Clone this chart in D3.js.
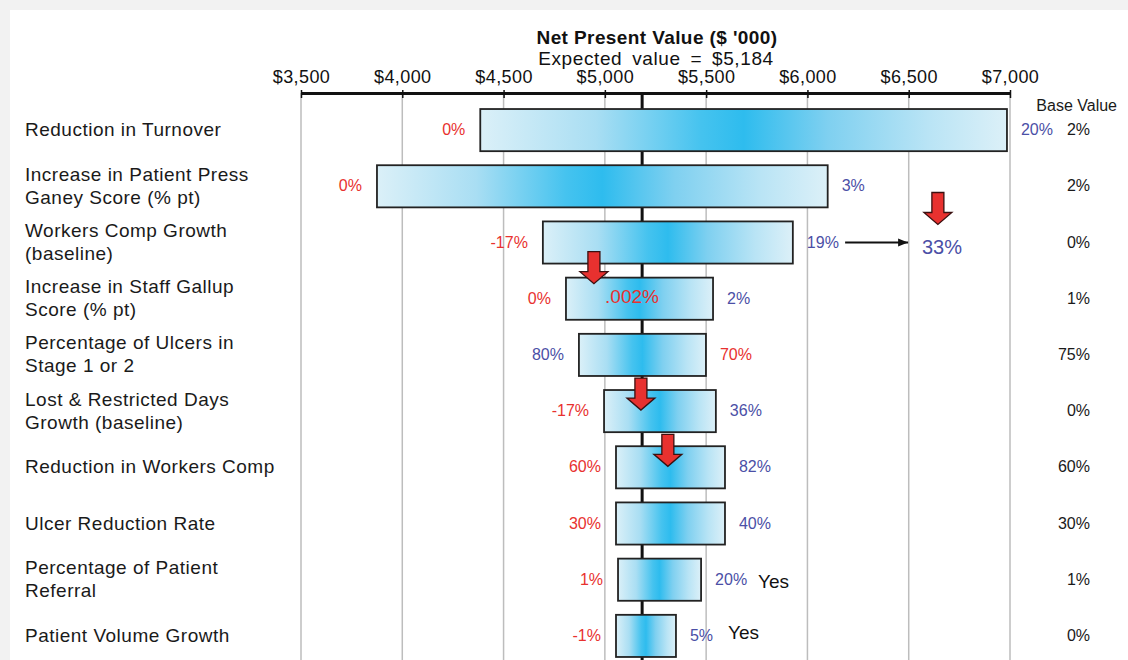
<!DOCTYPE html>
<html>
<head>
<meta charset="utf-8">
<script src="https://cdn.jsdelivr.net/npm/d3@7"></script>
<style>
  body { margin: 0; background: #f2f2f2; }
  svg { display: block; font-family: "Liberation Sans", Arial, sans-serif; }
</style>
</head>
<body>
<script>
// size
var w = 1128;
var h = 660;

// data
const rowLabels = [
  ["Reduction in Turnover"],
  ["Increase in Patient Press", "Ganey Score (% pt)"],
  ["Workers Comp Growth", "(baseline)"],
  ["Increase in Staff Gallup", "Score (% pt)"],
  ["Percentage of Ulcers in", "Stage 1 or 2"],
  ["Lost & Restricted Days", "Growth (baseline)"],
  ["Reduction in Workers Comp"],
  ["Ulcer Reduction Rate"],
  ["Percentage of Patient", "Referral"],
  ["Patient Volume Growth"]
];
const lowValues  = [4385, 3875, 4694, 4808, 4872, 4996, 5055, 5055, 5065, 5055];
const highValues = [6985, 6100, 5928, 5534, 5499, 5548, 5593, 5593, 5475, 5351];
const leftLabels  = ["0%", "0%", "-17%", "0%", "80%", "-17%", "60%", "30%", "1%", "-1%"];
const rightLabels = ["20%", "3%", "19%", "2%", "70%", "36%", "82%", "40%", "20%", "5%"];
// true when the left label is the red (low input) one
const leftIsRed = [true, true, true, true, false, true, true, true, true, true];
const baseValues = ["2%", "2%", "0%", "1%", "75%", "0%", "60%", "30%", "1%", "0%"];

const tickValues = [3500, 4000, 4500, 5000, 5500, 6000, 6500, 7000];
const expectedValue = 5184;

// red arrows: [row index, value position, offset from row centre of the tip]
const redArrows = [[2, 6644, -18], [3, 4946, -15], [5, 5178, -1], [6, 5311, -1]];
// extra notes: [row, value, text, colour, dy]
const notes = [
  [3, 5134, ".002%", "red", -2],
  [2, 6664, "33%", "blue", 5],
  [8, 5756, "Yes", "black", 2],
  [9, 5608, "Yes", "black", -3]
];
const blackArrow = [2, 6186, 6497];

const RED = "#e8312f";
const BLUE = "#4b4fa6";

// scales
const xScale = d3.scaleLinear()
  .domain([3500, 7000])
  .range([301, 1010]);

const yScale = d3.scaleBand()
  .domain(d3.range(rowLabels.length))
  .range([102, 664])
  .paddingInner(0.25)
  .paddingOuter(0.125);

const cy = i => yScale(i) + yScale.bandwidth() / 2;

const svg = d3.select("body")
  .append("svg")
  .attr("width", w)
  .attr("height", h);

// white panel
svg.append("rect")
  .attr("x", 10).attr("y", 10)
  .attr("width", w - 10).attr("height", h - 10)
  .attr("fill", "white");

// gradient for bars
const defs = svg.append("defs");
const grad = defs.append("linearGradient")
  .attr("id", "barGrad")
  .attr("x1", "0%").attr("x2", "100%")
  .attr("y1", "0%").attr("y2", "0%");
[[0, "#dbf0f8"], [0.22, "#a9def3"], [0.42, "#45c3ef"], [0.5, "#2ebcee"],
 [0.66, "#7fd0f0"], [0.85, "#b9e4f5"], [1, "#dcf0f8"]]
  .forEach(s => grad.append("stop").attr("offset", s[0]).attr("stop-color", s[1]));

// titles
svg.append("text")
  .attr("x", 657).attr("y", 44)
  .attr("text-anchor", "middle")
  .attr("font-size", 19).attr("font-weight", "bold")
  .attr("letter-spacing", 0.4)
  .attr("fill", "#111")
  .text("Net Present Value ($ '000)");

svg.append("text")
  .attr("x", 656).attr("y", 65)
  .attr("text-anchor", "middle")
  .attr("font-size", 19)
  .attr("letter-spacing", 0.6)
  .attr("word-spacing", 4)
  .attr("fill", "#111")
  .text("Expected value = $5,184");

const axisY = 93;

// gridlines
svg.selectAll(".grid")
  .data(tickValues)
  .enter()
  .append("line")
    .attr("x1", d => xScale(d)).attr("x2", d => xScale(d))
    .attr("y1", axisY).attr("y2", h)
    .attr("stroke", "#bdbdbd")
    .attr("stroke-width", 1.5);

// top axis
const xAxis = d3.axisTop(xScale)
  .tickValues(tickValues)
  .tickFormat(d => "$" + d3.format(",")(d))
  .tickSizeInner(5)
  .tickSizeOuter(0)
  .tickPadding(5);

const ax = svg.append("g")
  .attr("transform", `translate(0, ${axisY})`)
  .call(xAxis);
ax.select(".domain").attr("stroke", "#111").attr("stroke-width", 3);
ax.selectAll(".tick line").attr("stroke", "#111").attr("stroke-width", 1.5).attr("y2", 5).attr("y1", -3);
ax.selectAll(".tick text")
  .attr("font-size", 18)
  .attr("letter-spacing", 0.4)
  .attr("font-family", "Liberation Sans, Arial, sans-serif")
  .attr("fill", "#111");

// expected value line
svg.append("line")
  .attr("x1", xScale(expectedValue)).attr("x2", xScale(expectedValue))
  .attr("y1", axisY).attr("y2", h)
  .attr("stroke", "#111")
  .attr("stroke-width", 3);

// bars
svg.selectAll(".bar")
  .data(d3.range(rowLabels.length))
  .enter()
  .append("rect")
    .attr("x", i => xScale(lowValues[i]))
    .attr("y", i => yScale(i))
    .attr("width", i => xScale(highValues[i]) - xScale(lowValues[i]))
    .attr("height", yScale.bandwidth())
    .attr("fill", "url(#barGrad)")
    .attr("stroke", "#222")
    .attr("stroke-width", 1.8);

// row labels
const rowG = svg.selectAll(".rowLabel")
  .data(rowLabels)
  .enter()
  .append("text")
    .attr("x", 25)
    .attr("y", (d, i) => cy(i) + 6 - (d.length - 1) * 11.5)
    .attr("font-size", 19)
    .attr("letter-spacing", 0.5)
    .attr("fill", "#1a1a1a");
rowG.selectAll("tspan")
  .data(d => d)
  .enter()
  .append("tspan")
    .attr("x", 25)
    .attr("dy", (d, j) => j === 0 ? 0 : 23)
    .text(d => d);

// low / high labels
svg.selectAll(".leftLab")
  .data(leftLabels)
  .enter()
  .append("text")
    .attr("x", (d, i) => xScale(lowValues[i]) - 15)
    .attr("y", (d, i) => cy(i) + 5)
    .attr("text-anchor", "end")
    .attr("font-size", 16)
    .attr("fill", (d, i) => leftIsRed[i] ? RED : BLUE)
    .text(d => d);

svg.selectAll(".rightLab")
  .data(rightLabels)
  .enter()
  .append("text")
    .attr("x", (d, i) => xScale(highValues[i]) + 14)
    .attr("y", (d, i) => cy(i) + 5)
    .attr("font-size", 16)
    .attr("fill", (d, i) => leftIsRed[i] ? BLUE : RED)
    .text(d => d);

// base value column
svg.append("text")
  .attr("x", 1117).attr("y", 111)
  .attr("text-anchor", "end")
  .attr("font-size", 16)
  .attr("fill", "#1a1a1a")
  .text("Base Value");

svg.selectAll(".base")
  .data(baseValues)
  .enter()
  .append("text")
    .attr("x", 1090)
    .attr("y", (d, i) => cy(i) + 5)
    .attr("text-anchor", "end")
    .attr("font-size", 16)
    .attr("fill", "#1a1a1a")
    .text(d => d);

// notes
svg.selectAll(".note")
  .data(notes)
  .enter()
  .append("text")
    .attr("x", d => xScale(d[1]))
    .attr("y", d => cy(d[0]) + 6 + d[4])
    .attr("text-anchor", d => d[2] === "Yes" ? "start" : "middle")
    .attr("font-size", d => d[2] === "33%" ? 20 : 19)
    .attr("fill", d => d[3] === "red" ? RED : d[3] === "blue" ? BLUE : "#111")
    .text(d => d[2]);

// black arrow 19% -> 33%
defs.append("marker")
  .attr("id", "head")
  .attr("viewBox", "0 0 10 10")
  .attr("refX", 10).attr("refY", 5)
  .attr("markerWidth", 5).attr("markerHeight", 5)
  .attr("orient", "auto")
  .append("path")
    .attr("d", "M0,1 L10,5 L0,9 Z")
    .attr("fill", "#111");

svg.append("line")
  .attr("x1", xScale(blackArrow[1])).attr("x2", xScale(blackArrow[2]))
  .attr("y1", cy(blackArrow[0])).attr("y2", cy(blackArrow[0]))
  .attr("stroke", "#111")
  .attr("stroke-width", 2)
  .attr("marker-end", "url(#head)");

// red down arrows
svg.selectAll(".redArrow")
  .data(redArrows)
  .enter()
  .append("path")
    .attr("d", d => {
      const x = xScale(d[1]);
      const tip = cy(d[0]) + d[2];
      const top = tip - 32;
      const neck = tip - 12;
      return `M${x - 6},${top} L${x + 6},${top} L${x + 6},${neck} L${x + 14},${neck}` +
             ` L${x},${tip} L${x - 14},${neck} L${x - 6},${neck} Z`;
    })
    .attr("fill", RED)
    .attr("stroke", "#3a1010")
    .attr("stroke-width", 1.3)
    .attr("stroke-linejoin", "miter");
</script>
</body>
</html>
